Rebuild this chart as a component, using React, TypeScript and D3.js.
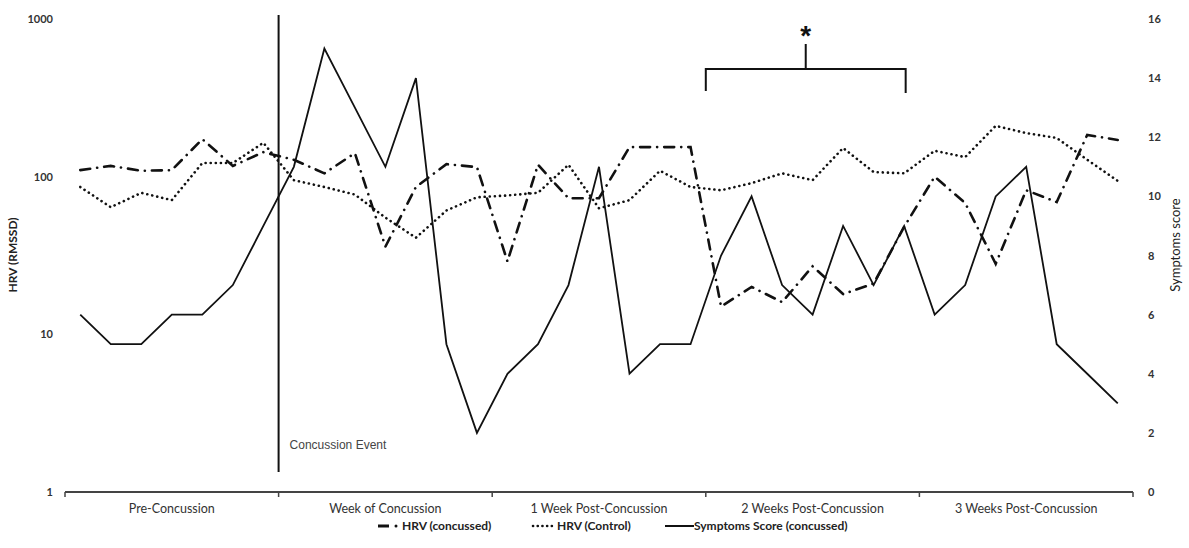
import React from 'react';
import * as d3 from 'd3';

const weeks = ['Pre-Concussion', 'Week of Concussion', '1 Week Post-Concussion', '2 Weeks Post-Concussion', '3 Weeks Post-Concussion'];

// daily values, 7 per week
const hrvConcussed = [110, 117, 109, 110, 173, 117, 143, 128, 105, 141, 36, 86, 120, 115, 29, 119, 73, 73, 154, 154, 154, 15, 20, 16, 27, 18, 21, 48, 100, 68, 28, 82, 69, 184, 171];
const hrvControl = [86, 64, 79, 71, 122, 122, 164, 95, 86, 77, 55, 41, 61, 74, 76, 79, 119, 63, 71, 109, 86, 82, 91, 105, 95, 152, 107, 105, 146, 133, 210, 189, 176, 128, 94];
const symptoms = [6, 5, 5, 6, 6, 7, 9, 11, 15, 13, 11, 14, 5, 2, 4, 5, 7, 11, 4, 5, 5, 8, 10, 7, 6, 9, 7, 9, 6, 7, 10, 11, 5, 4, 3];

const leftTicks = [1, 10, 100, 1000];
const rightTicks = [0, 2, 4, 6, 8, 10, 12, 14, 16];

const W = 1189;
const H = 548;
const font = '"Liberation Sans", Arial, sans-serif';
const axisFont = 'Lato, "Open Sans", sans-serif';

const App: React.FC = () => {
  const days = symptoms.length;
  const x = d3.scaleLinear().domain([0, days]).range([65, 1133]);
  const yL = d3.scaleLog().domain([1, 1000]).range([492, 19]);
  const yR = d3.scaleLinear().domain([0, 16]).range([492, 19]);

  const hrvLine = d3.line<number>().x((_, i) => x(i + 0.5)).y(d => yL(d));
  const symLine = d3.line<number>().x((_, i) => x(i + 0.5)).y(d => yR(d));

  const weekX = (w: number) => x(w * 7);
  const eventX = weekX(1);
  const bx0 = x(21);
  const bx1 = x(27.55);
  const bmid = (bx0 + bx1) / 2;

  return (
    <svg width={W} height={H} style={{ position: 'absolute', left: 0, top: 0, background: '#fff' }}>
      {/* x axis */}
      <line x1={x(0)} x2={x(days)} y1={492} y2={492} stroke="#444" strokeWidth={2} />
      {d3.range(0, weeks.length + 1).map(w => (
        <line key={w} x1={weekX(w)} x2={weekX(w)} y1={492} y2={497} stroke="#444" strokeWidth={1.5} />
      ))}
      {weeks.map((w, i) => (
        <text key={w} x={(weekX(i) + weekX(i + 1)) / 2} y={513} textAnchor="middle" fontFamily={axisFont} fontSize={12.5} fill="#333">{w}</text>
      ))}

      {/* left axis labels */}
      {leftTicks.map(t => (
        <text key={t} x={53} y={yL(t) + 4} textAnchor="end" fontFamily={axisFont} fontWeight="bold" fontSize={11} fill="#333">{t}</text>
      ))}
      <text transform={`translate(17,255) rotate(-90)`} textAnchor="middle" fontFamily={axisFont} fontWeight="bold" fontSize={12} fill="#222">HRV (RMSSD)</text>

      {/* right axis labels */}
      {rightTicks.map(t => (
        <text key={t} x={1148} y={yR(t) + 4} textAnchor="start" fontFamily={axisFont} fontWeight="bold" fontSize={11} fill="#333">{t}</text>
      ))}
      <text transform={`translate(1180,245) rotate(-90)`} textAnchor="middle" fontFamily={axisFont} fontSize={13} fill="#222">Symptoms score</text>

      {/* series */}
      <path d={hrvLine(hrvControl) || ''} fill="none" stroke="#111" strokeWidth={2.6} strokeDasharray="0.1,5" strokeLinecap="round" />
      <path d={hrvLine(hrvConcussed) || ''} fill="none" stroke="#111" strokeWidth={2.6} strokeDasharray="10,7,0.1,7" strokeLinecap="round" />
      <path d={symLine(symptoms) || ''} fill="none" stroke="#111" strokeWidth={1.8} strokeLinejoin="miter" />

      {/* concussion event */}
      <line x1={eventX} x2={eventX} y1={15} y2={472} stroke="#111" strokeWidth={2} />
      <text x={eventX + 11} y={449} fontFamily={font} fontSize={12} fill="#444">Concussion Event</text>

      {/* significance bracket */}
      <path d={`M${bx0},91 V69 H${bx1} V93 M${bmid},69 V44`} fill="none" stroke="#111" strokeWidth={2} />
      <text x={bmid} y={45} textAnchor="middle" fontFamily={font} fontWeight="bold" fontSize={28} fill="#111">*</text>

      {/* legend */}
      <g fontFamily={axisFont} fontSize={12} fontWeight="bold" fill="#222">
        <line x1={378} x2={389} y1={526} y2={526} stroke="#111" strokeWidth={3} />
        <circle cx={396} cy={526} r={1.5} fill="#111" />
        <text x={402} y={530}>HRV (concussed)</text>
        <line x1={533} x2={556} y1={526} y2={526} stroke="#111" strokeWidth={2.6} strokeDasharray="0.1,4.6" strokeLinecap="round" />
        <text x={557} y={530}>HRV (Control)</text>
        <line x1={665} x2={694} y1={526} y2={526} stroke="#111" strokeWidth={2} />
        <text x={694} y={530}>Symptoms Score (concussed)</text>
      </g>
    </svg>
  );
};

export default App;
